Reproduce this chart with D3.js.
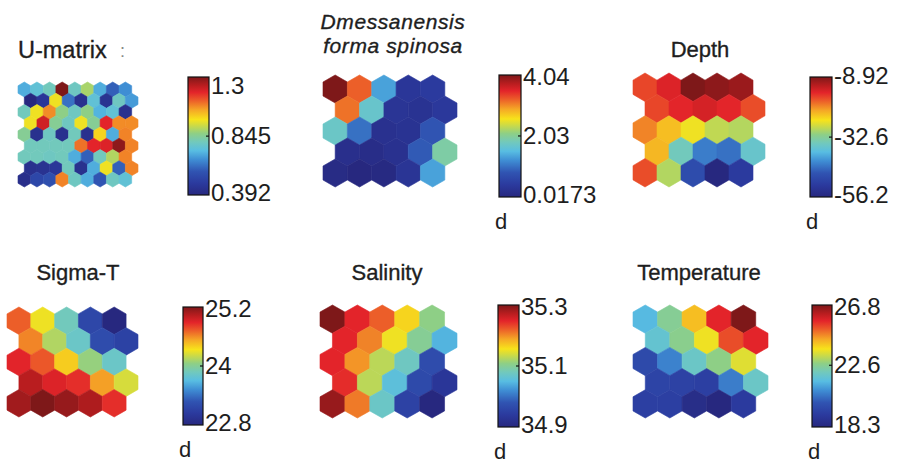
<!DOCTYPE html>
<html><head><meta charset="utf-8">
<script src="https://cdn.jsdelivr.net/npm/d3@7"></script>
<style>
html,body{margin:0;padding:0;background:#fff;}
svg{display:block;font-family:"Liberation Sans",Arial,Helvetica,sans-serif;}
</style></head><body>
<svg id="fig" width="898" height="463"></svg>
<script>
// ---- component-plane values, one array per row, top row first ----
// U-matrix: 9 x 9 hexagonal cells
const uMatrix = [
  [0.710, 0.755, 0.801, 1.300, 0.792, 0.891, 0.710, 0.592, 0.664],
  [0.392, 0.465, 0.964, 0.619, 0.437, 0.755, 0.446, 0.792, 0.683],
  [0.801, 0.964, 1.073, 0.864, 0.792, 0.864, 0.719, 0.755, 0.437],
  [0.964, 1.209, 0.846, 0.792, 0.964, 0.846, 1.182, 1.073, 1.073],
  [0.846, 0.437, 0.792, 0.437, 0.801, 0.437, 0.991, 0.710, 1.082],
  [0.801, 0.801, 0.801, 0.801, 1.100, 1.182, 1.191, 1.282, 1.082],
  [0.801, 0.801, 0.792, 0.801, 0.710, 0.592, 0.801, 0.900, 1.082],
  [0.437, 0.446, 0.465, 0.801, 0.437, 0.710, 0.964, 0.592, 1.082],
  [0.428, 0.528, 0.555, 1.082, 0.792, 0.710, 0.574, 0.792, 0.755]
];
// 5 x 5 component planes
const dmessanensis = [
  [4.04, 3.23, 1.35, 0.34, 0.42],
  [3.15, 1.71, 0.30, 0.26, 0.38],
  [1.75, 1.02, 0.22, 0.26, 0.82],
  [0.18, 0.14, 0.22, 0.86, 1.95],
  [0.10, 0.0173, 0.06, 0.30, 1.35]
];
const depth = [
  [-17.0, -14.6, -8.92, -9.8, -10.5],
  [-17.0, -15.1, -14.1, -15.1, -17.4],
  [-20.3, -23.6, -26.4, -29.0, -29.6],
  [-23.1, -34.9, -43.4, -44.4, -36.3],
  [-17.4, -29.7, -48.2, -56.2, -51.5]
];
const sigmaT = [
  [24.72, 24.31, 23.88, 23.16, 22.80],
  [24.62, 24.14, 23.83, 23.21, 23.11],
  [24.89, 24.74, 24.41, 24.07, 23.83],
  [25.03, 24.91, 24.86, 24.55, 24.24],
  [25.10, 25.20, 25.13, 25.06, 24.86]
];
const salinity = [
  [35.300, 35.248, 35.220, 35.164, 35.108],
  [35.248, 35.204, 35.152, 35.100, 35.044],
  [35.248, 35.196, 35.128, 35.076, 34.968],
  [35.244, 35.128, 35.056, 34.964, 34.932],
  [35.288, 35.208, 35.072, 34.952, 34.900]
];
const temperature = [
  [21.45, 22.55, 24.17, 25.70, 26.80],
  [21.79, 22.64, 23.66, 25.27, 25.70],
  [19.66, 20.68, 21.96, 22.72, 23.49],
  [19.49, 19.41, 19.32, 20.60, 21.96],
  [19.32, 19.32, 18.56, 18.30, 19.15]
];

// ---- colorbar ticks: [min, middle, max] and their printed labels ----
const uMatrixTicks = [0.392, 0.845, 1.3];
const uMatrixTickLabels = ["0.392", "0.845", "1.3"];
const dmessTicks = [0.0173, 2.03, 4.04];
const dmessTickLabels = ["0.0173", "2.03", "4.04"];
const depthTicks = [-56.2, -32.6, -8.92];
const depthTickLabels = ["-56.2", "-32.6", "-8.92"];
const sigmaTTicks = [22.8, 24, 25.2];
const sigmaTTickLabels = ["22.8", "24", "25.2"];
const salinityTicks = [34.9, 35.1, 35.3];
const salinityTickLabels = ["34.9", "35.1", "35.3"];
const temperatureTicks = [18.3, 22.6, 26.8];
const temperatureTickLabels = ["18.3", "22.6", "26.8"];

// ---- jet-like palette (position along the range, colour) ----
const jetStops = [
  [0.00, "#27287f"], [0.10, "#2b3a9e"], [0.20, "#3054b2"], [0.30, "#3f8ed4"],
  [0.375, "#58bde2"], [0.45, "#72c9bc"], [0.52, "#8ecf86"], [0.60, "#d6dc3c"],
  [0.64, "#f7e31b"], [0.72, "#f5a826"], [0.80, "#ec5e29"], [0.87, "#e3242a"],
  [0.93, "#b81d1f"], [1.00, "#7e1819"]
];

// ---- panel layout ----
const panels = [
  { id: "umat", title: ["U-matrix"], italic: false, titleSize: 23.5, titleX: 18, titleAnchor: "start", titleY: [58],
    values: uMatrix, ticks: uMatrixTicks, tickLabels: uMatrixTickLabels,
    grid: { x: 18, y: 82, w: 120, h: 105 }, bar: { x: 188, y: 77, w: 21, h: 118 },
    topShift: 8, showD: false },
  { id: "dmes", title: ["Dmessanensis", "forma spinosa"], italic: true, titleSize: 21, titleSpacing: 0.6,
    titleX: 393, titleAnchor: "middle", titleY: [29, 52.5],
    values: dmessanensis, ticks: dmessTicks, tickLabels: dmessTickLabels,
    grid: { x: 323, y: 75, w: 134, h: 112 }, bar: { x: 499, y: 75, w: 22, h: 122 },
    topShift: 1, showD: true },
  { id: "depth", title: ["Depth"], italic: false, titleSize: 22, titleX: 700, titleAnchor: "middle", titleY: [57],
    values: depth, ticks: depthTicks, tickLabels: depthTickLabels,
    grid: { x: 633, y: 73, w: 132, h: 114 }, bar: { x: 810, y: 77, w: 22, h: 120 },
    topShift: -2, showD: true },
  { id: "sigma", title: ["Sigma-T"], italic: false, titleSize: 22, titleX: 78, titleAnchor: "middle", titleY: [280],
    values: sigmaT, ticks: sigmaTTicks, tickLabels: sigmaTTickLabels,
    grid: { x: 7, y: 307, w: 131, h: 110 }, bar: { x: 183, y: 307, w: 20, h: 118 },
    topShift: 1, showD: true },
  { id: "sal", title: ["Salinity"], italic: false, titleSize: 22, titleX: 387, titleAnchor: "middle", titleY: [280],
    values: salinity, ticks: salinityTicks, tickLabels: salinityTickLabels,
    grid: { x: 320, y: 305, w: 137, h: 113 }, bar: { x: 498, y: 305, w: 21, h: 122 },
    topShift: 1, showD: true },
  { id: "temp", title: ["Temperature"], italic: false, titleSize: 22, titleX: 699, titleAnchor: "middle", titleY: [280],
    values: temperature, ticks: temperatureTicks, tickLabels: temperatureTickLabels,
    grid: { x: 633, y: 305, w: 135, h: 113 }, bar: { x: 812, y: 305, w: 20, h: 122 },
    topShift: 1, showD: true }
];

const svg = d3.select("#fig");
const defs = svg.append("defs");

function colorScale(lo, hi) {
  return d3.scaleLinear()
    .domain(jetStops.map(s => lo + s[0] * (hi - lo)))
    .range(jetStops.map(s => s[1]))
    .interpolate(d3.interpolateRgb)
    .clamp(true);
}

// one shared vertical gradient for every colorbar (bottom = low, top = high)
const grad = defs.append("linearGradient")
  .attr("id", "jetGrad").attr("x1", 0).attr("y1", 1).attr("x2", 0).attr("y2", 0);
grad.selectAll("stop").data(jetStops).join("stop")
  .attr("offset", d => d[0]).attr("stop-color", d => d[1]);

function hexPath(cx, cy, w, h) {
  const pts = [
    [cx, cy - h / 2], [cx + w / 2, cy - h / 4], [cx + w / 2, cy + h / 4],
    [cx, cy + h / 2], [cx - w / 2, cy + h / 4], [cx - w / 2, cy - h / 4]
  ];
  return "M" + pts.map(p => p[0].toFixed(2) + "," + p[1].toFixed(2)).join("L") + "Z";
}

panels.forEach(p => {
  const g = svg.append("g").attr("class", "panel " + p.id);
  const nRows = p.values.length, nCols = p.values[0].length;
  const lo = p.ticks[0], hi = p.ticks[2];
  const color = colorScale(lo, hi);

  // column units: odd rows are shifted right by half a cell
  const xs = d3.scaleLinear().domain([0, nCols + 0.5]).range([p.grid.x, p.grid.x + p.grid.w]);
  // row units: a cell is 4/3 of the row step tall
  const ys = d3.scaleLinear().domain([0, nRows - 1 + 4 / 3]).range([p.grid.y, p.grid.y + p.grid.h]);
  const cw = xs(1) - xs(0), ch = (ys(1) - ys(0)) * 4 / 3;

  const cells = [];
  p.values.forEach((row, r) => row.forEach((v, c) => cells.push({ r, c, v })));

  g.append("g").selectAll("path").data(cells).join("path")
    .attr("d", d => hexPath(xs(d.c + 0.5 + (d.r % 2) * 0.5), ys(d.r + 2 / 3), cw, ch))
    .attr("fill", d => color(d.v))
    .attr("stroke", d => color(d.v))
    .attr("stroke-width", 0.6);

  // title
  const t = g.append("text")
    .attr("x", p.titleX).attr("text-anchor", p.titleAnchor)
    .attr("font-size", p.titleSize).attr("fill", "#1e1e1e")
    .attr("stroke", "#1e1e1e").attr("stroke-width", 0.35)
    .attr("letter-spacing", p.titleSpacing || null)
    .attr("font-style", p.italic ? "italic" : null);
  p.title.forEach((line, i) => {
    t.append("tspan").attr("x", p.titleX).attr("y", p.titleY[i]).text(line);
  });

  // colorbar
  const by = d3.scaleLinear().domain([lo, hi]).range([p.bar.y + p.bar.h, p.bar.y]);
  g.append("rect")
    .attr("x", p.bar.x).attr("y", p.bar.y).attr("width", p.bar.w).attr("height", p.bar.h)
    .attr("fill", "url(#jetGrad)").attr("stroke", "#111").attr("stroke-width", 1.2);
  g.append("line")
    .attr("x1", p.bar.x + p.bar.w - 3).attr("x2", p.bar.x + p.bar.w)
    .attr("y1", by(p.ticks[1])).attr("y2", by(p.ticks[1]))
    .attr("stroke", "#111").attr("stroke-width", 1.2);

  const shifts = [-3, -1, p.topShift];
  g.append("g").selectAll("text").data(p.ticks).join("text")
    .attr("x", p.bar.x + p.bar.w + 2)
    .attr("y", (d, i) => by(d) + shifts[i])
    .attr("dy", "0.36em")
    .attr("font-size", 24).attr("fill", "#1e1e1e")
    .text((d, i) => p.tickLabels[i]);

  if (p.showD) {
    g.append("text")
      .attr("x", p.bar.x - 4).attr("y", p.bar.y + p.bar.h + 32)
      .attr("font-size", 22).attr("fill", "#1e1e1e").text("d");
  }
});

// small separator after the U-matrix caption
svg.append("text").attr("x", 120).attr("y", 57).attr("font-size", 18)
  .attr("fill", "#888").text(":");
</script>
</body></html>
